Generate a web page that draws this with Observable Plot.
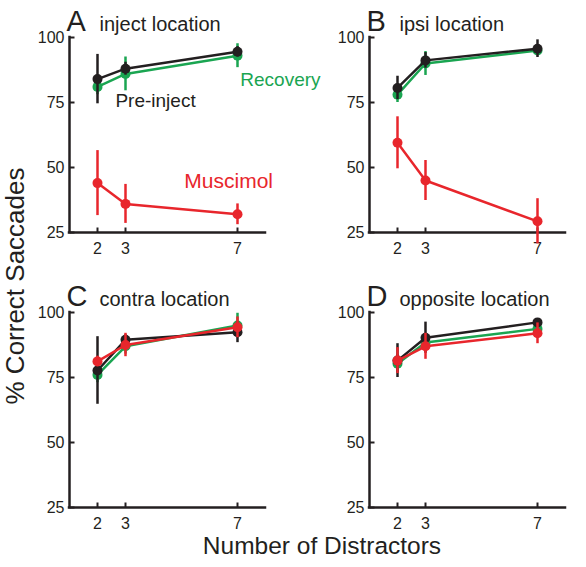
<!DOCTYPE html>
<html><head><meta charset="utf-8">
<script src="https://cdn.jsdelivr.net/npm/d3@7"></script>
<script src="https://cdn.jsdelivr.net/npm/@observablehq/plot@0.6"></script>
<style>
html,body{margin:0;padding:0;background:#fff;}
#chart{position:relative;width:586px;height:567px;}
.lbl{position:absolute;font-family:"Liberation Sans",Arial,sans-serif;color:#231f20;white-space:nowrap;line-height:1;}
</style></head><body><div id="chart"></div>
<script>
// ---- data ----
const distractors = [2, 3, 7];
const yTicks = [25, 50, 75, 100];
const panelLetters = ["A", "B", "C", "D"];
const panelTitles = ["inject location", "ipsi location", "contra location", "opposite location"];
const panelCols = [0, 1, 0, 1];
const panelRows = [0, 0, 1, 1];
const conditions = ["Recovery", "Pre-inject", "Muscimol"];
const conditionColors = ["#1aa551", "#231f20", "#e8262c"];
// mean % correct, per panel (A,B,C,D) x distractors (2,3,7)
const recoveryMean  = [[81, 86, 93], [78, 90, 95], [76, 87, 95], [80.3, 88.5, 93.7]];
const recoveryErr   = [[3, 6.5, 4.6], [3, 4.6, 2], [3, 3, 4.7], [3.5, 3, 2]];
const preInjectMean = [[84, 88, 94.5], [80.6, 91.2, 95.7], [77.7, 89.5, 92.4], [81.5, 90.3, 96.2]];
const preInjectErr  = [[9.5, 2.5, 2], [4.5, 3, 3.4], [13, 2, 4], [6.5, 6, 1.5]];
const muscimolMean  = [[44, 36, 32], [59.5, 45, 29.3], [81.2, 87.5, 94.3], [81.5, 87, 92]];
const muscimolErr   = [[12.5, 7.5, 4], [10, 7.7, 8.7], [2, 4.5, 4], [5, 5, 4]];
// in-panel labels (panel A), data coordinates
const labelX = [7.1, 2.64, 5.1];
const labelY = [81.2, 73.1, 42.3];
const labelSizes = [19, 19, 21];

// ---- build tables ----
const means = [recoveryMean, preInjectMean, muscimolMean];
const errs = [recoveryErr, preInjectErr, muscimolErr];
const rows = [];
conditions.forEach((c, ci) => panelLetters.forEach((p, pi) => distractors.forEach((n, ni) => {
  const m = means[ci][pi][ni], e = errs[ci][pi][ni];
  rows.push({condition: c, panel: p, col: panelCols[pi], row: panelRows[pi], n, mean: m, lo: m - e, hi: m + e});
})));
const titles = panelLetters.map((p, i) => ({letter: p, title: panelTitles[i], col: panelCols[i], row: panelRows[i]}));
const labels = conditions.map((c, i) => ({condition: c, x: labelX[i], y: labelY[i], col: 0, row: 0, size: labelSizes[i]}));

const condMarks = conditions.flatMap(c => {
  const d = rows.filter(r => r.condition === c);
  return [
    Plot.ruleX(d, {x: "n", y1: "lo", y2: "hi", stroke: "condition", strokeWidth: 2.5, fx: "col", fy: "row"}),
    Plot.line(d, {x: "n", y: "mean", stroke: "condition", strokeWidth: 2.5, fx: "col", fy: "row"}),
    Plot.dot(d, {x: "n", y: "mean", fill: "condition", r: 5, fx: "col", fy: "row"})
  ];
});

// inward tick marks drawn as custom dot symbols
const tickUp = {draw(ctx) { ctx.moveTo(0, 0); ctx.lineTo(0, -5); }};
const tickRight = {draw(ctx) { ctx.moveTo(0, 0); ctx.lineTo(5, 0); }};

const plot = Plot.plot({
  width: 586, height: 567,
  marginLeft: 69, marginRight: 21, marginTop: 37, marginBottom: 60,
  style: {fontFamily: "'Liberation Sans', Arial, sans-serif", color: "#231f20", background: "white"},
  x: {domain: [1, 8]},
  y: {domain: [25, 100]},
  fx: {domain: [0, 1], paddingInner: 104 / 300, paddingOuter: 0, axis: null},
  fy: {domain: [0, 1], paddingInner: 80 / 275, paddingOuter: 0, axis: null},
  color: {domain: conditions, range: conditionColors},
  marks: [
    Plot.axisX({ticks: distractors, tickFormat: d3.format("d"), tickSize: 0, tickPadding: 10, fontSize: 16, label: null, facetAnchor: null}),
    Plot.axisY({ticks: yTicks, tickFormat: d3.format("d"), tickSize: 0, tickPadding: 5, fontSize: 16, label: null, facetAnchor: null}),
    Plot.dot(distractors, {x: d => d, y: yTicks[0], symbol: tickUp, fill: "none", stroke: "#231f20", strokeWidth: 2}),
    Plot.dot(yTicks, {x: 1, y: d => d, symbol: tickRight, fill: "none", stroke: "#231f20", strokeWidth: 2}),
    Plot.ruleX([1], {y1: 25, y2: 100, stroke: "#231f20", strokeWidth: 2.5, strokeLinecap: "square"}),
    Plot.ruleY([25], {x1: 1, x2: 8, stroke: "#231f20", strokeWidth: 2.5, strokeLinecap: "square"}),
    ...condMarks,
    Plot.text(titles, {fx: "col", fy: "row", frameAnchor: "top-left", text: "letter", fontSize: 29, textAnchor: "start", lineAnchor: "bottom", dx: -3, dy: -7, fill: "#231f20"}),
    Plot.text(titles, {fx: "col", fy: "row", frameAnchor: "top-left", text: "title", fontSize: 20, textAnchor: "start", lineAnchor: "bottom", dx: 30, dy: -7, fill: "#231f20"}),
    Plot.text(labels, {fx: "col", fy: "row", x: "x", y: "y", text: "condition", fill: "condition", fontSize: "size", textAnchor: "start", lineAnchor: "bottom"})
  ]
});
const chart = document.getElementById("chart");
chart.appendChild(plot);

const yl = document.createElement("div");
yl.className = "lbl";
yl.textContent = "% Correct Saccades";
yl.style.cssText = "left:14.6px;top:286px;font-size:26px;transform:translate(-50%,-50%) rotate(-90deg);";
chart.appendChild(yl);
const xl = document.createElement("div");
xl.className = "lbl";
xl.textContent = "Number of Distractors";
xl.style.cssText = "left:322px;top:534px;font-size:24.5px;transform:translateX(-50%);";
chart.appendChild(xl);
</script></body></html>
